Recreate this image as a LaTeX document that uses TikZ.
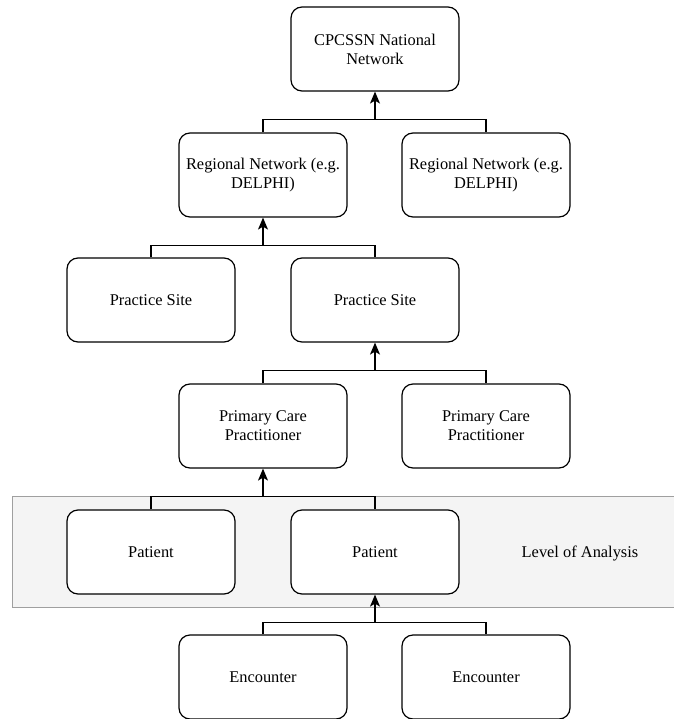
\documentclass[tikz,border=0pt]{standalone}
\usepackage{fontspec}
\setmainfont{Liberation Serif}
\usetikzlibrary{arrows.meta,positioning,calc}

\begin{document}
\begin{tikzpicture}[
  x=1pt,y=-1pt,
  font=\fontsize{16.4}{19}\selectfont,
  box/.style={draw,line width=1.2pt,rounded corners=11pt,fill=white,
              minimum width=168pt,minimum height=84pt,
              align=center,inner sep=2pt},
  arr/.style={-{Stealth[length=12pt,width=10pt,inset=3pt]},line width=1.2pt},
  link/.style={line width=1.2pt},
  band/.style={draw=gray!75,line width=1.2pt,fill=gray!9,inner sep=0pt}
]
\useasboundingbox (0,0) rectangle (673,719);

% Level of analysis band
\node[band,anchor=north west,minimum width=680pt,minimum height=111pt]
  (band) at (12,496) {};

% Entity boxes
\node[box] (nat)   at (375,49)  {CPCSSN National\\Network};
\node[box] (regA)  at (263,175) {Regional Network (e.g.\\DELPHI)};
\node[box] (regB)  at (486,175) {Regional Network (e.g.\\DELPHI)};
\node[box] (siteA) at (151,300) {Practice Site};
\node[box] (siteB) at (375,300) {Practice Site};
\node[box] (pcpA)  at (263,426) {Primary Care\\Practitioner};
\node[box] (pcpB)  at (486,426) {Primary Care\\Practitioner};
\node[box] (patA)  at (151,552) {Patient};
\node[box] (patB)  at (375,552) {Patient};
\node[box] (encA)  at (263,677) {Encounter};
\node[box] (encB)  at (486,677) {Encounter};

\node (loa) at (580,553) {Level of Analysis};

% Tree connectors
\foreach \p/\l/\r in {nat/regA/regB, regA/siteA/siteB, siteB/pcpA/pcpB,
                      pcpA/patA/patB, patB/encA/encB} {
  \coordinate (bus) at ($(\p.south)+(0,28)$);
  \draw[link] (\l.north) |- (bus) -| (\r.north);
  \draw[arr] (bus) -- (\p.south);
}

\end{tikzpicture}
\end{document}
